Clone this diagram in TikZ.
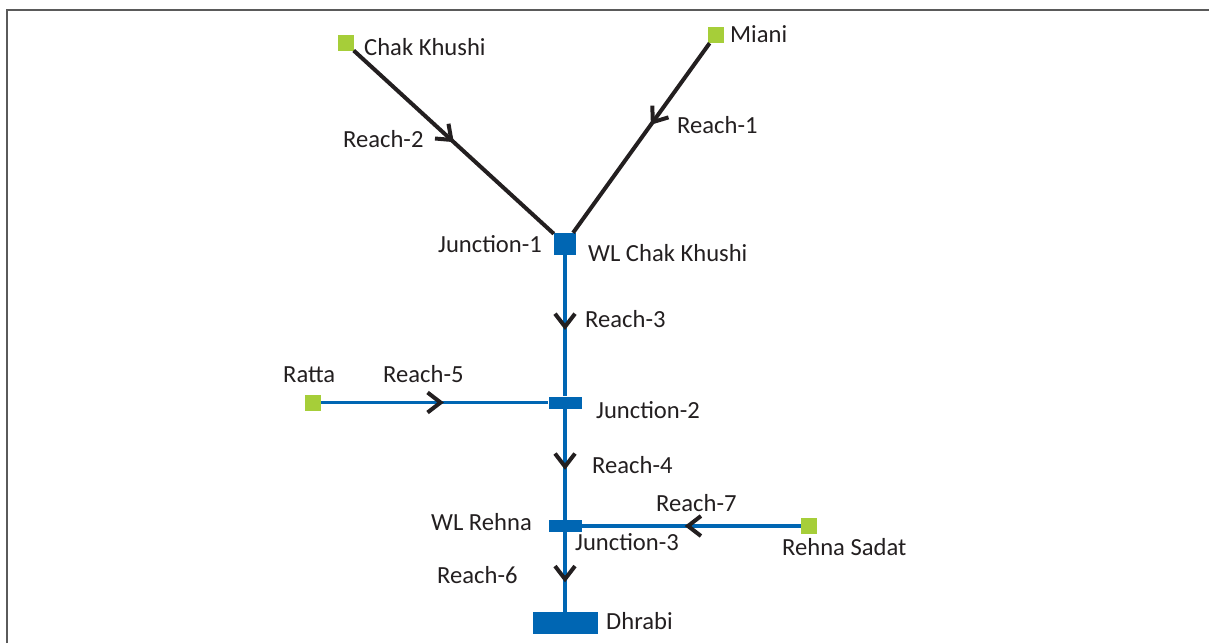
\documentclass[tikz,border=0pt]{standalone}
\usepackage{fontspec}
\setmainfont{Carlito}
\usetikzlibrary{arrows.meta,decorations.markings}
\definecolor{ink}{HTML}{231F20}
\definecolor{srcgreen}{HTML}{A6CE39}
\definecolor{riverblue}{HTML}{0066B3}
\definecolor{framegray}{HTML}{5A5A5A}
\begin{document}
\begin{tikzpicture}[x=1pt,y=-1pt,
  src/.style={rectangle,fill=srcgreen,inner sep=0pt,minimum size=16pt},
  junc/.style={rectangle,fill=riverblue,inner sep=0pt,minimum width=33pt,minimum height=12pt},
  lbl/.style={inner sep=0pt,anchor=base west,text=ink,font=\fontsize{24.6}{28}\selectfont},
  blackreach/.style={draw=ink,line width=4pt},
  bluereach/.style={draw=riverblue,line width=3.8pt},
  arrowmid/.style={postaction={decorate},decoration={markings,
     mark=at position #1 with {\arrow[ink]{Straight Barb[length=13pt,width=20pt,line width=4pt]}}}}
]
\useasboundingbox (0,0) rectangle (1209,643);
% frame
\draw[framegray,line width=2pt] (7,643) -- (7,9.5) -- (1209,9.5);

% nodes
\node[src] (chak) at (345.5,43) {};
\node[src] (miani) at (715.5,35) {};
\node[rectangle,fill=riverblue,inner sep=0pt,minimum size=22pt] (j1) at (565,244) {};
\node[src] (ratta) at (313,402.5) {};
\node[junc] (j2) at (565,402.5) {};
\node[junc] (j3) at (565,526) {};
\node[src] (rehna) at (809,526) {};
\node[rectangle,fill=riverblue,inner sep=0pt,minimum width=65pt,minimum height=22pt] (dhrabi) at (565,623) {};

% connectors
\draw[blackreach,arrowmid=0.5] (chak) -- (j1);
\draw[blackreach,arrowmid=0.43] (miani) -- (j1);
\draw[bluereach,arrowmid=0.53] (j1) -- (j2);
\draw[bluereach,arrowmid=0.55] (j2) -- (j3);
\draw[bluereach,arrowmid=0.63] (j3) -- (dhrabi);
\draw[bluereach,arrowmid=0.54] (ratta) -- (j2);
\draw[bluereach,arrowmid=0.53] (rehna) -- (j3);

% labels
\node[lbl] (tchak) at (364,55) {Chak Khushi};
\node[lbl] (tmiani) at (730,42) {Miani};
\node[lbl] (tr2) at (343,147) {Reach-2};
\node[lbl] (tr1) at (677,133) {Reach-1};
\node[lbl] (tj1) at (438,252) {Junction-1};
\node[lbl] (twlc) at (588,261) {WL Chak Khushi};
\node[lbl] (tr3) at (585,327) {Reach-3};
\node[lbl] (tratta) at (283,382) {Ratta};
\node[lbl] (tr5) at (383,382) {Reach-5};
\node[lbl] (tj2) at (596,418) {Junction-2};
\node[lbl] (tr4) at (592,473) {Reach-4};
\node[lbl] (tr7) at (656,511) {Reach-7};
\node[lbl] (twlr) at (431,530) {WL Rehna};
\node[lbl] (tj3) at (575,550) {Junction-3};
\node[lbl] (trs) at (782,555) {Rehna Sadat};
\node[lbl] (tr6) at (437,583) {Reach-6};
\node[lbl] (tdh) at (606,629) {Dhrabi};
\end{tikzpicture}
\end{document}
